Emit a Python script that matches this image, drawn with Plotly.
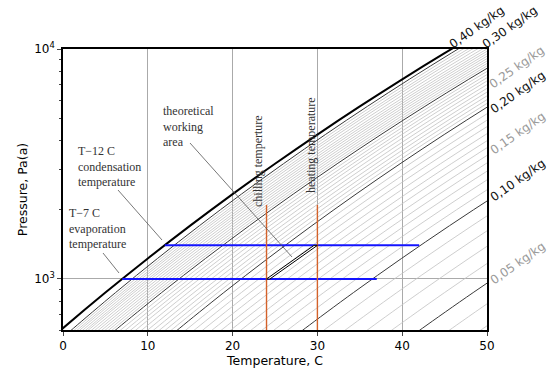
import numpy as np
import plotly.graph_objects as go

# Water saturation table (deg C, Pa)
sat_T = [-1, 0, 5, 10, 15, 20, 25, 30, 35, 40, 45, 50]
sat_P = [567.7, 611.2, 872.6, 1228.1, 1705.6, 2339.3, 3169.0, 4246.0, 5628.0, 7384.9, 9593.0, 12352.0]

# Isosteres: temperature (C) where each line crosses 600 Pa and 10 kPa
thin_lo = [1.35, 1.7, 2.0, 2.35, 2.7, 3.0, 3.4, 3.8, 4.2, 4.6, 5.0, 5.4, 5.8,
           6.8, 7.4, 8.0, 8.6, 9.3, 10.0, 10.7, 11.4, 12.1, 12.8,
           14.5, 15.5, 16.5, 17.6, 18.7, 19.8, 21.0, 22.2, 23.5, 24.9, 26.5,
           30.8, 33.3, 35.9, 38.8, 45.6, 49.3]
thin_hi = [47.19, 47.78, 48.29, 48.88, 49.47, 50.0, 50.47, 50.96, 51.44, 51.93, 52.41, 52.9, 53.39,
           54.49, 55.11, 55.73, 56.35, 57.07, 57.79, 58.51, 59.24, 59.96, 60.68,
           62.7, 63.99, 65.28, 66.7, 68.12, 69.54, 71.1, 72.65, 74.33, 76.14, 78.2,
           83.53, 86.54, 89.65, 93.14, 101.15, 105.42]
bold_lo = [1.0, 6.2, 13.5, 28.3, 42.1]
bold_hi = [46.6, 53.87, 61.4, 80.53, 97.1]

uptake_labels = ["0,40 kg/kg", "0,30 kg/kg", "0,25 kg/kg", "0,20 kg/kg",
                 "0,15 kg/kg", "0,10 kg/kg", "0,05 kg/kg"]
uptake_dark = [True, True, False, True, False, True, False]

evap_T = [7, 37]
evap_P = [1000, 1000]
cond_T = [12, 42]
cond_P = [1400, 1400]
chill_T = [24, 24]
heat_T = [30, 30]
temp_line_P = [600, 2100]
work_T = [24, 29.6, 30, 24.4, 24]
work_P = [1000, 1400, 1400, 1000, 1000]

x_ticks = [0, 10, 20, 30, 40, 50]
y_ticks = [1000, 10000]
y_ticktext = ["10<sup>3</sup>", "10<sup>4</sup>"]
y_minor = [600, 700, 800, 900, 2000, 3000, 4000, 5000, 6000, 7000, 8000, 9000]

logP = np.log10(sat_P)
t600 = float(np.interp(np.log10(600), logP, sat_T))
t1e4 = float(np.interp(4.0, logP, sat_T))


def isostere_set(los, his):
    xs, ys = [], []
    for lo, hi in zip(los, his):
        x = lo + (np.array(sat_T) - t600) * (hi - lo) / (t1e4 - t600)
        xs += list(x) + [None]
        ys += list(sat_P) + [None]
    return xs, ys


fig = go.Figure()
gx, gy = isostere_set(thin_lo, thin_hi)
fig.add_trace(go.Scatter(x=gx, y=gy, mode="lines", line=dict(color="#c2c2c2", width=0.8, shape="spline"),
                         hoverinfo="skip"))
bx, by = isostere_set(bold_lo, bold_hi)
fig.add_trace(go.Scatter(x=bx, y=by, mode="lines", line=dict(color="#3a3a3a", width=1.0, shape="spline"),
                         hoverinfo="skip"))
fig.add_trace(go.Scatter(x=sat_T, y=sat_P, mode="lines", line=dict(color="black", width=2, shape="spline"),
                         hoverinfo="skip"))
fig.add_trace(go.Scatter(x=evap_T, y=evap_P, mode="lines", line=dict(color="#1414ff", width=2)))
fig.add_trace(go.Scatter(x=cond_T, y=cond_P, mode="lines", line=dict(color="#1414ff", width=2)))
fig.add_trace(go.Scatter(x=chill_T, y=temp_line_P, mode="lines", line=dict(color="#d4622a", width=1.4)))
fig.add_trace(go.Scatter(x=heat_T, y=temp_line_P, mode="lines", line=dict(color="#d4622a", width=1.4)))
fig.add_trace(go.Scatter(x=work_T, y=work_P, mode="lines", fill="toself", fillcolor="white",
                         line=dict(color="black", width=1)))

L, R, T, B = 63, 487, 49, 330


def px(x):
    return (x - L) / (R - L)


def py(y):
    return (B - y) / (B - T)


ann = []
label_centers = [(477, 27), (510, 27), (517, 67), (518, 92), (518, 133), (518, 180), (518, 263)]
for txt, dark, (cx, cy) in zip(uptake_labels, uptake_dark, label_centers):
    ann.append(dict(text=txt, x=px(cx), y=py(cy), xref="paper", yref="paper", showarrow=False,
                    textangle=-35, xanchor="center", yanchor="middle",
                    font=dict(family="DejaVu Sans", size=12, color="#111111" if dark else "#9a9a9a")))

serif = dict(family="Liberation Serif", size=12, color="#333333")
ann.append(dict(text="theoretical<br>working<br>area", x=px(161), y=py(102), xref="paper", yref="paper",
                showarrow=False, xanchor="left", yanchor="top", align="left", font=serif))
ann.append(dict(text="T\u221212 C<br>condensation<br>temperature", x=px(76), y=py(142), xref="paper",
                yref="paper", showarrow=False, xanchor="left", yanchor="top", align="left", font=serif))
ann.append(dict(text="T\u22127 C<br>evaporation<br>temperature", x=px(67), y=py(204), xref="paper",
                yref="paper", showarrow=False, xanchor="left", yanchor="top", align="left", font=serif))
ann.append(dict(text="chilling temperture", x=px(258), y=py(161), xref="paper", yref="paper",
                showarrow=False, textangle=-90, xanchor="center", yanchor="middle", font=serif))
ann.append(dict(text="heating temperature", x=px(311), y=py(145), xref="paper", yref="paper",
                showarrow=False, textangle=-90, xanchor="center", yanchor="middle", font=serif))

shapes = []
for (x0, y0, x1, y1) in [(190, 143, 292, 257), (118, 190, 162, 240), (103, 253, 119, 273)]:
    shapes.append(dict(type="line", xref="paper", yref="paper", x0=px(x0), y0=py(y0), x1=px(x1), y1=py(y1),
                       line=dict(color="#555555", width=0.8)))

tickfont = dict(family="DejaVu Sans", size=12, color="black")
titlefont = dict(family="DejaVu Sans", size=12.5, color="black")
fig.update_layout(
    width=553, height=371, margin=dict(l=L, r=553 - R, t=T, b=371 - B, autoexpand=False),
    plot_bgcolor="white", paper_bgcolor="white", showlegend=False,
    annotations=ann, shapes=shapes,
    xaxis=dict(range=[0, 50], tickvals=x_ticks, ticks="outside", ticklen=4, tickwidth=1.2,
               showline=True, mirror=True, linecolor="black", linewidth=1.5,
               showgrid=True, gridcolor="#aaaaaa", gridwidth=1.2, zeroline=False,
               tickfont=tickfont, automargin=False,
               title=dict(text="Temperature, C", font=titlefont, standoff=4)),
    yaxis=dict(type="log", range=[np.log10(600), 4], tickvals=y_ticks, ticktext=y_ticktext,
               ticks="outside", ticklen=4, tickwidth=1.2,
               minor=dict(tickvals=y_minor, ticks="outside", ticklen=2.5, tickwidth=1, showgrid=False),
               showline=True, mirror=True, linecolor="black", linewidth=1.5,
               showgrid=True, gridcolor="#aaaaaa", gridwidth=1.2, zeroline=False,
               tickfont=tickfont, automargin=False,
               title=dict(text="Pressure, Pa(a)", font=titlefont, standoff=4)),
)
fig.write_html("out.html", config={"displayModeBar": False},
               post_script="document.body.style.margin='0';document.body.style.overflow='hidden';")
